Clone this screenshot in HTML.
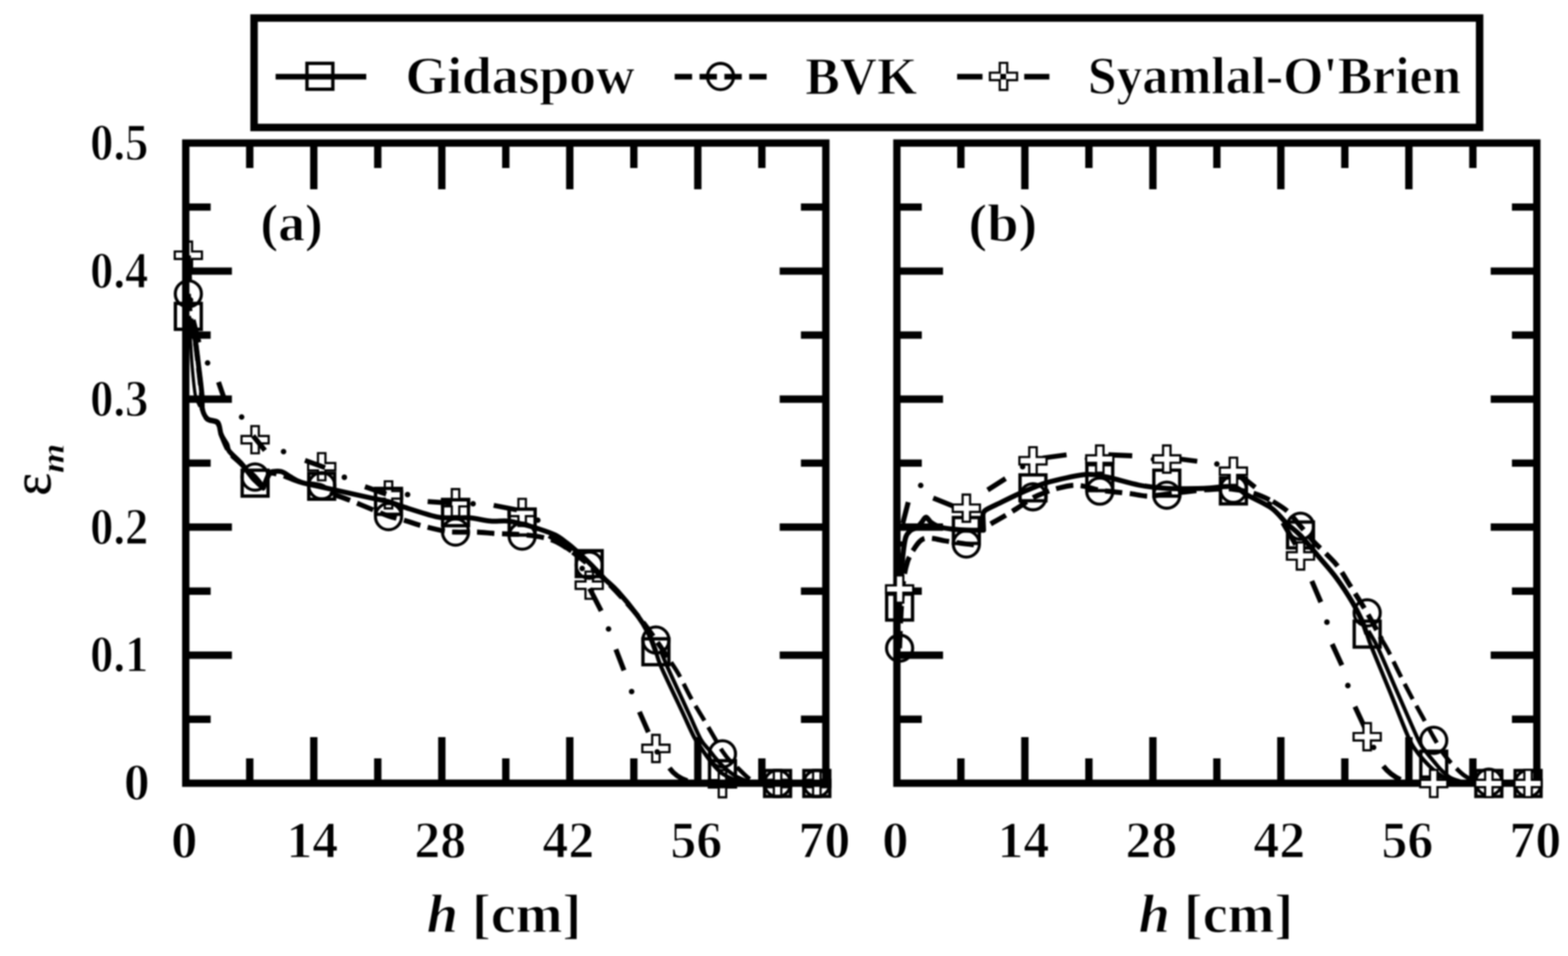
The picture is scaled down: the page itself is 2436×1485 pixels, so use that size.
<!DOCTYPE html>
<html lang="en"><head><meta charset="utf-8"><title>Solids holdup profiles</title>
<style>
html,body{margin:0;padding:0;background:#fff;}
body{width:2436px;height:1485px;overflow:hidden;}
svg{display:block;filter:blur(1px);}
text{font-family:"Liberation Serif","DejaVu Serif",serif;font-weight:bold;fill:#000;stroke:#fff;stroke-width:1.3;stroke-linejoin:round;}
.dg text{stroke-width:1.5;}
text.eps{font-weight:normal;stroke:#000;stroke-width:0.8;}
text.sub{stroke-width:0.8;}
.ax{stroke:#000;stroke-width:11.4;fill:none;}
.tk{stroke:#000;stroke-width:11.4;fill:none;stroke-linecap:butt;}
.ln{stroke:#000;stroke-width:7.8;fill:none;stroke-linecap:butt;stroke-linejoin:round;}
.lg{stroke-width:8.7;}
.dot{fill:#000;stroke:none;}
.sq{stroke:#000;stroke-width:5.2;fill:none;}
.ci{stroke:#000;stroke-width:4.8;fill:none;}
.pl{stroke:#000;stroke-width:3.4;fill:none;stroke-linejoin:miter;}
.plf{stroke:#000;stroke-width:3.4;fill:#fff;stroke-linejoin:miter;}
</style></head><body>
<svg width="2436" height="1485" viewBox="0 0 2436 1485" role="img" aria-label="Axial solids holdup profiles for three drag models">
<rect x="0" y="0" width="2436" height="1485" fill="#fff"/>
<g id="legend">
<rect x="394.7" y="28" width="1904" height="170" fill="#fff" stroke="#000" stroke-width="11.6"/>
<path class="ln lg" d="M428.2 119.2H569"/>
<rect class="sq" x="476.9" y="98.4" width="40.2" height="40.2"/>
<path class="ln lg" d="M1048.2 119.2H1191" stroke-dasharray="27 11.6"/>
<circle class="ci" cx="1119.4" cy="118.8" r="20.3"/>
<path class="ln lg" d="M1487 119.2H1630.3" stroke-dasharray="39.4 27.6 9 28.2"/>
<path class="pl" d="M1553.2 97.6L1564.8 97.6L1564.8 112.9L1580.1 112.9L1580.1 124.5L1564.8 124.5L1564.8 139.8L1553.2 139.8L1553.2 124.5L1537.9 124.5L1537.9 112.9L1553.2 112.9Z"/>
<text x="630" y="145" font-size="82" textLength="356" lengthAdjust="spacingAndGlyphs">Gidaspow</text>
<text x="1251" y="146" font-size="82" textLength="174" lengthAdjust="spacingAndGlyphs">BVK</text>
<text x="1690" y="145" font-size="82" textLength="580" lengthAdjust="spacingAndGlyphs">Syamlal-O'Brien</text>
</g>
<g id="plot-a">
<clipPath id="clip-a"><rect x="258.6" y="192.2" width="1054.4" height="1054.4"/></clipPath>
<path class="ln" d="M292.6 397L294.5 435M300 497L309 532M339.5 593.5L350 624M393.2 677L411.6 699.6M473.8 715.1L505 726.4M567 756L600 767.5M664.4 779.1L702.4 781.6M767 785L803 792M853 832L888 856M916 914L934 949M956.8 1008.6L969.4 1041.4M993.4 1105.8L1007.3 1137.4M1040 1193Q1050 1207 1068 1213"/>
<circle class="dot" cx="296" cy="466" r="4.3"/>
<circle class="dot" cx="322.5" cy="563.8" r="4.3"/>
<circle class="dot" cx="375.4" cy="647.8" r="4.3"/>
<circle class="dot" cx="440.5" cy="701.5" r="4.3"/>
<circle class="dot" cx="535" cy="741.4" r="4.3"/>
<circle class="dot" cx="633.2" cy="768.2" r="4.3"/>
<circle class="dot" cx="735" cy="782.5" r="4.3"/>
<circle class="dot" cx="835.5" cy="808" r="4.3"/>
<circle class="dot" cx="904.5" cy="883" r="4.3"/>
<circle class="dot" cx="945.4" cy="977" r="4.3"/>
<circle class="dot" cx="981.3" cy="1074.2" r="4.3"/>
<circle class="dot" cx="1021" cy="1168" r="4.3"/>
<path class="pl" d="M286.8 375.3L298.4 375.3L298.4 390.6L313.7 390.6L313.7 402.2L298.4 402.2L298.4 417.5L286.8 417.5L286.8 402.2L271.5 402.2L271.5 390.6L286.8 390.6Z"/>
<path class="pl" d="M390.5 661.9L402.1 661.9L402.1 677.2L417.4 677.2L417.4 688.8L402.1 688.8L402.1 704.1L390.5 704.1L390.5 688.8L375.2 688.8L375.2 677.2L390.5 677.2Z"/>
<path class="pl" d="M494 703.9L505.6 703.9L505.6 719.2L520.9 719.2L520.9 730.8L505.6 730.8L505.6 746.1L494 746.1L494 730.8L478.7 730.8L478.7 719.2L494 719.2Z"/>
<path class="pl" d="M597.8 747.6L609.4 747.6L609.4 762.9L624.7 762.9L624.7 774.5L609.4 774.5L609.4 789.8L597.8 789.8L597.8 774.5L582.5 774.5L582.5 762.9L597.8 762.9Z"/>
<path class="pl" d="M701.9 759.7L713.5 759.7L713.5 775L728.8 775L728.8 786.6L713.5 786.6L713.5 801.9L701.9 801.9L701.9 786.6L686.6 786.6L686.6 775L701.9 775Z"/>
<path class="pl" d="M805.4 774.9L817 774.9L817 790.2L832.3 790.2L832.3 801.8L817 801.8L817 817.1L805.4 817.1L805.4 801.8L790.1 801.8L790.1 790.2L805.4 790.2Z"/>
<path class="pl" d="M909.6 887.9L921.2 887.9L921.2 903.2L936.5 903.2L936.5 914.8L921.2 914.8L921.2 930.1L909.6 930.1L909.6 914.8L894.3 914.8L894.3 903.2L909.6 903.2Z"/>
<path class="pl" d="M1013.2 1141.5L1024.8 1141.5L1024.8 1156.8L1040.1 1156.8L1040.1 1168.4L1024.8 1168.4L1024.8 1183.7L1013.2 1183.7L1013.2 1168.4L997.9 1168.4L997.9 1156.8L1013.2 1156.8Z"/>
<path class="pl" d="M1116.6 1196.3L1128.2 1196.3L1128.2 1211.6L1143.5 1211.6L1143.5 1223.2L1128.2 1223.2L1128.2 1238.5L1116.6 1238.5L1116.6 1223.2L1101.3 1223.2L1101.3 1211.6L1116.6 1211.6Z"/>
<path class="pl" d="M1202.2 1195.9L1213.8 1195.9L1213.8 1211.2L1229.1 1211.2L1229.1 1222.8L1213.8 1222.8L1213.8 1238.1L1202.2 1238.1L1202.2 1222.8L1186.9 1222.8L1186.9 1211.2L1202.2 1211.2Z"/>
<path class="pl" d="M1263.2 1195.9L1274.8 1195.9L1274.8 1211.2L1290.1 1211.2L1290.1 1222.8L1274.8 1222.8L1274.8 1238.1L1263.2 1238.1L1263.2 1222.8L1247.9 1222.8L1247.9 1211.2L1263.2 1211.2Z"/>
<path class="ln" d="M292.6 456.5C293.3 463.8 295.3 488.1 297 500C298.7 511.9 301.1 516 303 528C304.9 540 306.8 558 308.5 572C310.2 586 312 601.3 313 612C314 622.7 313 629.5 314.5 636C316 642.5 318.1 647.5 322 651C325.9 654.5 334.3 652.8 338 657C341.7 661.2 341 668.5 344 676C347 683.5 351 694.7 356 702C361 709.3 367.3 713.5 374 720C380.7 726.5 390.5 734.8 396.3 741C402.1 747.2 406.9 754.3 409 757C410.2 754.3 414 744.7 416 741C418 737.3 417 735.3 421 735C425 734.7 432.3 736.7 440 739C447.7 741.3 457 746.3 467 749C477 751.7 491.2 752 499.8 755C508.4 758 515.4 765 518.5 767" stroke-dasharray="27 11.7" stroke-dashoffset="0"/>
<path class="ln" d="M518.5 768C522.8 769.6 534.1 773.4 544.5 777.5C554.9 781.6 571.1 788.5 581 792.5C590.9 796.5 595.3 798.8 603.6 801.5C611.9 804.2 622.5 806.6 630.7 809C638.9 811.4 643.1 813.4 652.6 816C662.1 818.6 678.8 822.8 688 824.5C697.2 826.2 698.9 826.2 707.7 826.5C716.5 826.8 731.3 826.2 741 826.5C750.7 826.8 757.8 828 766 828.5C774.2 829 782.5 829.2 790 829.5C797.5 829.8 802.4 829.6 811.2 830.5C820 831.4 833.8 832.8 842.8 834.7C851.8 836.6 857.1 838.1 865 842C872.9 845.9 881.6 852 890 858C898.4 864 906.2 870 915.4 878C924.6 886 935.1 896 945 906C954.9 916 965.8 927.7 975 938C984.2 948.3 992.7 958.6 1000 968C1007.3 977.4 1011.9 984.1 1019 994.2C1026.1 1004.3 1038.7 1023 1042.6 1028.8" stroke-dasharray="27 11.7" stroke-dashoffset="0"/>
<path class="ln" d="M1042.6 1028.8C1044.7 1032.2 1050 1039.5 1055.3 1049C1060.6 1058.5 1067.9 1074.2 1074.2 1085.6C1080.5 1097 1087.1 1107.1 1093.1 1117.2C1099.1 1127.3 1105.1 1137.7 1110 1146C1114.9 1154.3 1118.2 1160.8 1122.4 1167C1126.6 1173.2 1131 1178.7 1135 1183C1139 1187.3 1141.4 1188.6 1146.2 1193C1151 1197.4 1158.2 1205.5 1163.8 1209.3C1169.4 1213 1172.6 1214.2 1180 1215.5C1187.4 1216.8 1193.2 1216.8 1208 1217C1222.8 1217.2 1258.8 1217 1269 1217" stroke-dasharray="27 11.7" stroke-dashoffset="0" style="stroke-width:6.6"/>
<circle class="ci" cx="292.6" cy="456.5" r="20.3"/>
<circle class="ci" cx="396.3" cy="741" r="20.3"/>
<circle class="ci" cx="499.8" cy="754.5" r="20.3"/>
<circle class="ci" cx="603.6" cy="802.5" r="20.3"/>
<circle class="ci" cx="707.7" cy="826.5" r="20.3"/>
<circle class="ci" cx="811.2" cy="832.8" r="20.3"/>
<circle class="ci" cx="915.4" cy="878" r="20.3"/>
<circle class="ci" cx="1019" cy="994.2" r="20.3"/>
<circle class="ci" cx="1122.4" cy="1171" r="20.3"/>
<circle class="ci" cx="1208" cy="1217" r="20.3"/>
<circle class="ci" cx="1269" cy="1217" r="20.3"/>
<path class="ln" d="M294 498C294.3 503 295 515.7 295.8 528C296.6 540.3 297.5 557.7 298.8 572C300.1 586.3 301.5 604 303.5 614C305.5 624 309.8 629 311 632" style="stroke-width:5"/>
<path class="ln" d="M1026 1010C1027.8 1014.2 1030.5 1021.8 1036.6 1035.5C1042.7 1049.2 1056.7 1079.2 1062.6 1092C1068.5 1104.8 1067.6 1102.8 1072 1112.3C1076.4 1121.8 1084 1140.2 1089 1149C1094 1157.8 1098.1 1160.3 1101.9 1165.1C1105.7 1169.9 1108.3 1173.7 1112 1178C1115.7 1182.3 1119 1186.5 1124 1191C1129 1195.5 1135.7 1201.2 1142 1205C1148.3 1208.8 1158.7 1212.5 1162 1214" style="stroke-width:6"/>
<path class="ln" d="M292.6 491.4C293.3 493.7 295.2 498.9 297 505C298.8 511.1 301.3 516.8 303.3 528C305.3 539.2 307.2 557.7 309 572C310.8 586.3 312.9 603.3 313.8 614C314.7 624.7 313.1 629.9 314.5 636C315.9 642.1 318.5 647.4 322.5 650.7C326.5 654 334.8 652 338.3 656C341.8 660 341.3 669.3 343.6 675C345.9 680.7 350.2 685.7 352.3 690C354.4 694.3 352.6 696.2 356.2 701C359.8 705.8 367.9 712 373.8 718.7C379.7 725.4 386.8 735.9 391.5 741.4C396.2 746.9 399.1 749.2 402 752C404.9 754.8 407.8 757 409 758C410.2 755 414.2 744.1 416 740C417.8 735.9 416.5 734.8 420 733.5C423.5 732.2 432 731.4 437 732.5C442 733.6 444.9 737.2 450 740C455.1 742.8 459 746.2 467.3 749C475.6 751.8 483.2 752.8 500 756.6C516.8 760.4 551 767.9 568.3 771.7C585.6 775.5 593.8 776.7 603.6 779.3C613.4 781.9 614.9 783.6 627.3 787.5C639.7 791.4 665.2 799.9 677.8 802.7C690.4 805.5 694.3 804.1 703 804.4C711.7 804.7 720.2 803.6 730 804.4C739.8 805.2 752.2 808.6 762 809.4C771.8 810.2 780.6 808.5 789 809.4C797.4 810.2 804.7 812.5 812.5 814.5C820.3 816.5 827.6 818.4 836 821.2C844.4 824 855.7 827.7 863 831.3C870.3 834.9 875.1 839.4 880 843C884.9 846.6 886.4 847.8 892.5 853.2C898.6 858.6 908.7 867.7 916.4 875.3C924.1 882.9 931.5 891.4 938.8 898.7C946.1 906 951.5 909.5 960 918.9C968.5 928.3 981.7 944.3 989.6 955C997.5 965.7 1002.4 973.7 1007.3 983.3C1012.2 992.9 1017 1007.5 1019 1012.4"/>
<path class="ln" d="M1017 1008C1017.3 1008.7 1017.3 1007.8 1019 1012.4C1020.7 1017 1021.2 1022.2 1027 1035.5C1032.8 1048.8 1047.5 1079.2 1053.5 1092C1059.5 1104.8 1058.9 1103.5 1063 1112.3C1067.1 1121.1 1073.7 1136.2 1078.2 1144.7C1082.7 1153.2 1086.4 1157.6 1090 1163C1093.6 1168.4 1096.4 1172.5 1099.7 1177C1103 1181.5 1106.2 1185.9 1110 1190C1113.8 1194.1 1117.4 1198.3 1122.4 1201.8C1127.4 1205.3 1133.7 1208.6 1140 1211C1146.3 1213.4 1148.7 1215 1160 1216C1171.3 1217 1189.8 1216.8 1208 1217C1226.2 1217.2 1258.8 1217 1269 1217" style="stroke-width:6.2"/>
<rect class="sq" x="272.5" y="471.3" width="40.2" height="40.2"/>
<rect class="sq" x="376.2" y="730.4" width="40.2" height="40.2"/>
<rect class="sq" x="479.7" y="735.2" width="40.2" height="40.2"/>
<rect class="sq" x="583.5" y="758.7" width="40.2" height="40.2"/>
<rect class="sq" x="687.6" y="776.4" width="40.2" height="40.2"/>
<rect class="sq" x="791.1" y="790.9" width="40.2" height="40.2"/>
<rect class="sq" x="895.3" y="855.4" width="40.2" height="40.2"/>
<rect class="sq" x="998.9" y="992.3" width="40.2" height="40.2"/>
<rect class="sq" x="1102.3" y="1181.7" width="40.2" height="40.2"/>
<rect class="sq" x="1187.9" y="1196.9" width="40.2" height="40.2"/>
<rect class="sq" x="1248.9" y="1196.9" width="40.2" height="40.2"/>
<rect class="ax" x="288.6" y="222.2" width="994.4" height="994.4"/>
<path class="tk" d="M388 222.2v38.7M388 1216.6v-38.7M288.6 1117.2h38.7M1283 1117.2h-38.7M487.5 222.2v71.7M487.5 1216.6v-71.7M288.6 1017.7h71.7M1283 1017.7h-71.7M586.9 222.2v38.7M586.9 1216.6v-38.7M288.6 918.3h38.7M1283 918.3h-38.7M686.4 222.2v71.7M686.4 1216.6v-71.7M288.6 818.8h71.7M1283 818.8h-71.7M785.8 222.2v38.7M785.8 1216.6v-38.7M288.6 719.4h38.7M1283 719.4h-38.7M885.2 222.2v71.7M885.2 1216.6v-71.7M288.6 620h71.7M1283 620h-71.7M984.7 222.2v38.7M984.7 1216.6v-38.7M288.6 520.5h38.7M1283 520.5h-38.7M1084.1 222.2v71.7M1084.1 1216.6v-71.7M288.6 421.1h71.7M1283 421.1h-71.7M1183.6 222.2v38.7M1183.6 1216.6v-38.7M288.6 321.6h38.7M1283 321.6h-38.7"/>
</g>
<g id="plot-b">
<clipPath id="clip-b"><rect x="1363.4" y="192.2" width="1054.2" height="1054.4"/></clipPath>
<rect class="ax" x="1393.4" y="222.2" width="994.2" height="994.4"/>
<path class="tk" d="M1492.8 222.2v38.7M1492.8 1216.6v-38.7M1393.4 1117.2h38.7M2387.6 1117.2h-38.7M1592.2 222.2v71.7M1592.2 1216.6v-71.7M1393.4 1017.7h71.7M2387.6 1017.7h-71.7M1691.7 222.2v38.7M1691.7 1216.6v-38.7M1393.4 918.3h38.7M2387.6 918.3h-38.7M1791.1 222.2v71.7M1791.1 1216.6v-71.7M1393.4 818.8h71.7M2387.6 818.8h-71.7M1890.5 222.2v38.7M1890.5 1216.6v-38.7M1393.4 719.4h38.7M2387.6 719.4h-38.7M1989.9 222.2v71.7M1989.9 1216.6v-71.7M1393.4 620h71.7M2387.6 620h-71.7M2089.3 222.2v38.7M2089.3 1216.6v-38.7M1393.4 520.5h38.7M2387.6 520.5h-38.7M2188.8 222.2v71.7M2188.8 1216.6v-71.7M1393.4 421.1h71.7M2387.6 421.1h-71.7M2288.2 222.2v38.7M2288.2 1216.6v-38.7M1393.4 321.6h38.7M2387.6 321.6h-38.7"/>
<path class="ln" d="M2126 980C2128.5 984.5 2133.3 990.7 2141 1007C2148.7 1023.3 2161.6 1054.4 2172 1078C2182.4 1101.6 2196.2 1134 2203.2 1148.7C2210.2 1163.4 2209.9 1160.3 2214 1166C2218.1 1171.7 2223.2 1177.7 2227.7 1183C2232.2 1188.3 2236.4 1193.7 2241 1198C2245.6 1202.3 2249.3 1206.1 2255 1209C2260.7 1211.9 2271.7 1214.4 2275 1215.5" style="stroke-width:6"/>
<path class="ln" d="M1397.5 943C1397.9 935.8 1399.1 913.8 1400 900C1400.9 886.2 1401.8 870.8 1403 860C1404.2 849.2 1405.2 840.9 1407 835C1408.8 829.1 1411 827.2 1414 824.5C1417 821.8 1422 821.2 1425 819C1428 816.8 1429.7 813.6 1432 811C1434.3 808.4 1436.3 803.5 1438.6 803.5C1440.9 803.5 1443.1 808.8 1446 811C1448.9 813.2 1452.7 815.5 1456 817C1459.3 818.5 1462 819.2 1466 820C1470 820.8 1474.1 821.4 1480 822C1485.9 822.6 1493.5 823.2 1501.5 823.5C1509.5 823.8 1523.6 823.5 1528 823.5C1527.8 819.6 1527.2 803.9 1527 800C1527.7 798.8 1526.2 795.8 1531 792.5C1535.8 789.2 1547.5 784.2 1556 780C1564.5 775.8 1574 771.1 1582.2 767.4C1590.4 763.7 1596.9 760.9 1604.9 757.7C1612.9 754.6 1616.9 751.9 1630.4 748.5C1643.9 745.1 1671.3 738.4 1686 737.1C1700.7 735.8 1704.9 738.2 1718.8 740.9C1732.7 743.6 1753.7 750.5 1769.3 753.5C1784.9 756.5 1795.4 757.8 1812.2 758.6C1829 759.5 1853 759 1870.3 758.6C1887.6 758.2 1904.7 754.3 1915.8 756C1926.9 757.7 1927.2 763.2 1937 768.7C1946.8 774.2 1964.4 781.4 1974.9 788.9C1985.4 796.4 1992.4 806.9 2000 814C2007.6 821.1 2011.9 823 2020.3 831.8C2028.7 840.6 2041.3 856 2050.6 867C2059.9 878 2067.5 886.1 2075.9 897.5C2084.3 908.9 2094.5 924.6 2101 935.4C2107.5 946.1 2111.2 953.7 2115 962C2118.8 970.3 2122.2 981.2 2123.6 985"/>
<path class="ln" d="M2121.5 980C2121.8 980.8 2121.9 980.5 2123.6 985C2125.3 989.5 2125.4 991.8 2131.5 1007C2137.6 1022.2 2150.6 1053 2160 1076C2169.4 1099 2181.3 1130 2188 1145C2194.7 1160 2195.5 1159.5 2200 1166C2204.5 1172.5 2209.7 1178.3 2215 1184C2220.3 1189.7 2226.2 1195.5 2232 1200C2237.8 1204.5 2243.7 1208.3 2250 1211C2256.3 1213.7 2259.5 1215 2270 1216C2280.5 1217 2295.7 1216.8 2313 1217C2330.3 1217.2 2363.8 1217 2374 1217" style="stroke-width:6.2"/>
<rect class="sq" x="1377.5" y="922.9" width="40.2" height="40.2"/>
<rect class="sq" x="1481.2" y="803.9" width="40.2" height="40.2"/>
<rect class="sq" x="1584.7" y="737.7" width="40.2" height="40.2"/>
<rect class="sq" x="1688.5" y="721.9" width="40.2" height="40.2"/>
<rect class="sq" x="1792.6" y="730.4" width="40.2" height="40.2"/>
<rect class="sq" x="1896.1" y="742.5" width="40.2" height="40.2"/>
<rect class="sq" x="2000.3" y="810.9" width="40.2" height="40.2"/>
<rect class="sq" x="2103.9" y="964.9" width="40.2" height="40.2"/>
<rect class="sq" x="2207.3" y="1166.9" width="40.2" height="40.2"/>
<rect class="sq" x="2292.9" y="1196.9" width="40.2" height="40.2"/>
<rect class="sq" x="2353.9" y="1196.9" width="40.2" height="40.2"/>
<path class="ln" d="M1397.5 1007C1397.9 997.5 1398.9 967.8 1400 950C1401.1 932.2 1402.3 913 1404 900C1405.7 887 1407.7 879.3 1410 872C1412.3 864.7 1416.7 858.7 1418 856" stroke-dasharray="27 11.7" stroke-dashoffset="0"/>
<path class="ln" d="M1418 855.6C1419.5 853.5 1424 846.2 1427 843C1430 839.8 1432.2 837.6 1436 836.5C1439.8 835.4 1444.8 835.9 1450 836.5C1455.2 837.1 1461.3 839 1467 840C1472.7 841 1478.3 841.7 1484 842.5C1489.7 843.3 1495 844.2 1501 845C1507 845.8 1516.8 846.7 1520 847" stroke-dasharray="27 11.7" stroke-dashoffset="0"/>
<path class="ln" d="M1539.1 813.8C1543.2 811.4 1556.4 804.2 1563.9 799.7C1571.5 795.2 1577.6 791.2 1584.4 786.8C1591.2 782.3 1598.2 776.7 1605 773C1611.8 769.3 1618.7 766.9 1625 764.5C1631.3 762.1 1636.2 760.4 1643 758.6C1649.8 756.9 1659 754.5 1666 754C1673 753.5 1677.9 754.2 1685 755.5C1692.1 756.8 1701.1 760.1 1708.6 761.5C1716.1 762.9 1722.4 763.2 1730 764C1737.6 764.8 1745.7 765.4 1754 766.5C1762.3 767.6 1772.8 770 1780 770.5C1787.2 771 1790.3 770.2 1797 769.5C1803.7 768.8 1811.2 767.6 1820 766.5C1828.8 765.4 1839.2 764.1 1850 763C1860.8 761.9 1874 760.5 1885 760C1896 759.5 1905.4 758.8 1916.2 760C1927 761.2 1939.8 763.9 1950 767C1960.2 770.1 1972.8 776.8 1977.4 778.8" stroke-dasharray="27 11.7" stroke-dashoffset="0"/>
<path class="ln" d="M1977.4 778.8C1981.2 781.3 1992.8 787.6 2000 794C2007.2 800.4 2013.7 809.6 2020.4 817.4C2027.2 825.2 2033.6 833.6 2040.5 841C2047.4 848.4 2055.7 855.5 2062 862C2068.3 868.5 2072.3 871.6 2078.4 879.8C2084.5 888 2091 899.4 2098.6 911.4C2106.2 923.4 2116 938.3 2124 952C2132 965.7 2142.8 986.5 2146.6 993.4" stroke-dasharray="27 11.7" stroke-dashoffset="0"/>
<path class="ln" d="M2146.6 993.4C2148.3 996.3 2152.1 1002.1 2156.7 1011C2161.3 1019.9 2168.5 1035.3 2174.4 1047C2180.3 1058.7 2185.9 1069.6 2192 1081C2198.1 1092.4 2205.1 1104.6 2211 1115.4C2216.9 1126.2 2222.5 1136.9 2227.7 1146C2232.9 1155.1 2237 1162.9 2242 1170C2247 1177.1 2252.1 1182.8 2257.7 1188.6C2263.3 1194.4 2269.2 1200.7 2275.4 1205C2281.6 1209.3 2288.7 1212.5 2295 1214.5C2301.3 1216.5 2299.8 1216.6 2313 1217C2326.2 1217.4 2363.8 1217 2374 1217" stroke-dasharray="27 11.7" stroke-dashoffset="0" style="stroke-width:6.6"/>
<circle class="ci" cx="1397.6" cy="1006.8" r="20.3"/>
<circle class="ci" cx="1501.3" cy="845" r="20.3"/>
<circle class="ci" cx="1604.8" cy="771.7" r="20.3"/>
<circle class="ci" cx="1708.6" cy="762.9" r="20.3"/>
<circle class="ci" cx="1812.7" cy="769.2" r="20.3"/>
<circle class="ci" cx="1916.2" cy="760" r="20.3"/>
<circle class="ci" cx="2020.4" cy="817.4" r="20.3"/>
<circle class="ci" cx="2124" cy="952" r="20.3"/>
<circle class="ci" cx="2227.4" cy="1150" r="20.3"/>
<circle class="ci" cx="2313" cy="1215" r="20.3"/>
<circle class="ci" cx="2374" cy="1217" r="20.3"/>
<path class="ln" d="M1397.6 915L1398.5 877M1402.5 813L1411 780M1449.8 773.7L1481.4 786.4M1534.4 761.1L1562.2 743.4M1620 711.5L1657 706.5M1722 706.5L1759 708M1825 712L1860 716.5M1920 733L1950 757M1993 812L2013 846M2038 902.5L2052 935.4M2069.6 1000.5L2084.7 1033.3M2105 1097.7L2122 1134M2149 1190Q2160 1204 2176 1211"/>
<circle class="dot" cx="1400" cy="845" r="4.3"/>
<circle class="dot" cx="1430.4" cy="754" r="4.3"/>
<circle class="dot" cx="1510" cy="787" r="4.3"/>
<circle class="dot" cx="1588.7" cy="725" r="4.3"/>
<circle class="dot" cx="1689.5" cy="712.5" r="4.3"/>
<circle class="dot" cx="1792" cy="713.5" r="4.3"/>
<circle class="dot" cx="1890.5" cy="720.7" r="4.3"/>
<circle class="dot" cx="1972" cy="783" r="4.3"/>
<circle class="dot" cx="2061.5" cy="966.4" r="4.3"/>
<circle class="dot" cx="2094" cy="1064.9" r="4.3"/>
<circle class="dot" cx="2134" cy="1161" r="4.3"/>
<path class="plf" d="M1391.8 893.9L1403.4 893.9L1403.4 909.2L1418.7 909.2L1418.7 920.8L1403.4 920.8L1403.4 936.1L1391.8 936.1L1391.8 920.8L1376.5 920.8L1376.5 909.2L1391.8 909.2Z"/>
<path class="plf" d="M1495.5 768.3L1507.1 768.3L1507.1 783.6L1522.4 783.6L1522.4 795.2L1507.1 795.2L1507.1 810.5L1495.5 810.5L1495.5 795.2L1480.2 795.2L1480.2 783.6L1495.5 783.6Z"/>
<path class="plf" d="M1599 694.6L1610.6 694.6L1610.6 709.9L1625.9 709.9L1625.9 721.5L1610.6 721.5L1610.6 736.8L1599 736.8L1599 721.5L1583.7 721.5L1583.7 709.9L1599 709.9Z"/>
<path class="plf" d="M1702.8 692L1714.4 692L1714.4 707.3L1729.7 707.3L1729.7 718.9L1714.4 718.9L1714.4 734.2L1702.8 734.2L1702.8 718.9L1687.5 718.9L1687.5 707.3L1702.8 707.3Z"/>
<path class="plf" d="M1806.9 692L1818.5 692L1818.5 707.3L1833.8 707.3L1833.8 718.9L1818.5 718.9L1818.5 734.2L1806.9 734.2L1806.9 718.9L1791.6 718.9L1791.6 707.3L1806.9 707.3Z"/>
<path class="plf" d="M1910.4 710.9L1922 710.9L1922 726.2L1937.3 726.2L1937.3 737.8L1922 737.8L1922 753.1L1910.4 753.1L1910.4 737.8L1895.1 737.8L1895.1 726.2L1910.4 726.2Z"/>
<path class="plf" d="M2014.6 842.5L2026.2 842.5L2026.2 857.8L2041.5 857.8L2041.5 869.4L2026.2 869.4L2026.2 884.7L2014.6 884.7L2014.6 869.4L1999.3 869.4L1999.3 857.8L2014.6 857.8Z"/>
<path class="plf" d="M2118.2 1123.3L2129.8 1123.3L2129.8 1138.6L2145.1 1138.6L2145.1 1150.2L2129.8 1150.2L2129.8 1165.5L2118.2 1165.5L2118.2 1150.2L2102.9 1150.2L2102.9 1138.6L2118.2 1138.6Z"/>
<path class="plf" d="M2221.6 1195.9L2233.2 1195.9L2233.2 1211.2L2248.5 1211.2L2248.5 1222.8L2233.2 1222.8L2233.2 1238.1L2221.6 1238.1L2221.6 1222.8L2206.3 1222.8L2206.3 1211.2L2221.6 1211.2Z"/>
<path class="plf" d="M2307.2 1195.9L2318.8 1195.9L2318.8 1211.2L2334.1 1211.2L2334.1 1222.8L2318.8 1222.8L2318.8 1238.1L2307.2 1238.1L2307.2 1222.8L2291.9 1222.8L2291.9 1211.2L2307.2 1211.2Z"/>
<path class="plf" d="M2368.2 1195.9L2379.8 1195.9L2379.8 1211.2L2395.1 1211.2L2395.1 1222.8L2379.8 1222.8L2379.8 1238.1L2368.2 1238.1L2368.2 1222.8L2352.9 1222.8L2352.9 1211.2L2368.2 1211.2Z"/>
</g>
<g id="ticklabels" font-size="80" class="dg">
<text x="232.5" y="1242.3" text-anchor="end" textLength="40" lengthAdjust="spacingAndGlyphs">0</text>
<text x="230.5" y="1043.4" text-anchor="end" textLength="90.5" lengthAdjust="spacingAndGlyphs">0.1</text>
<text x="230.5" y="844.5" text-anchor="end" textLength="90.5" lengthAdjust="spacingAndGlyphs">0.2</text>
<text x="230.5" y="645.7" text-anchor="end" textLength="90.5" lengthAdjust="spacingAndGlyphs">0.3</text>
<text x="230.5" y="446.8" text-anchor="end" textLength="90.5" lengthAdjust="spacingAndGlyphs">0.4</text>
<text x="230.5" y="247.9" text-anchor="end" textLength="90.5" lengthAdjust="spacingAndGlyphs">0.5</text>
<text x="286.3" y="1332.4" text-anchor="middle" textLength="41" lengthAdjust="spacingAndGlyphs">0</text>
<text x="485.2" y="1332.4" text-anchor="middle" textLength="80.5" lengthAdjust="spacingAndGlyphs">14</text>
<text x="684.1" y="1332.4" text-anchor="middle" textLength="80.5" lengthAdjust="spacingAndGlyphs">28</text>
<text x="882.9" y="1332.4" text-anchor="middle" textLength="80.5" lengthAdjust="spacingAndGlyphs">42</text>
<text x="1081.8" y="1332.4" text-anchor="middle" textLength="80.5" lengthAdjust="spacingAndGlyphs">56</text>
<text x="1280.7" y="1332.4" text-anchor="middle" textLength="80.5" lengthAdjust="spacingAndGlyphs">70</text>
<text x="1391.1" y="1332.4" text-anchor="middle" textLength="41" lengthAdjust="spacingAndGlyphs">0</text>
<text x="1589.9" y="1332.4" text-anchor="middle" textLength="80.5" lengthAdjust="spacingAndGlyphs">14</text>
<text x="1788.8" y="1332.4" text-anchor="middle" textLength="80.5" lengthAdjust="spacingAndGlyphs">28</text>
<text x="1987.6" y="1332.4" text-anchor="middle" textLength="80.5" lengthAdjust="spacingAndGlyphs">42</text>
<text x="2186.5" y="1332.4" text-anchor="middle" textLength="80.5" lengthAdjust="spacingAndGlyphs">56</text>
<text x="2385.3" y="1332.4" text-anchor="middle" textLength="80.5" lengthAdjust="spacingAndGlyphs">70</text>
</g>
<g id="titles" font-size="84">
<text x="783" y="1447.5" text-anchor="middle" textLength="240" lengthAdjust="spacingAndGlyphs"><tspan font-style="italic">h</tspan> [cm]</text>
<text x="1889" y="1447.5" text-anchor="middle" textLength="240" lengthAdjust="spacingAndGlyphs"><tspan font-style="italic">h</tspan> [cm]</text>
<text class="eps" transform="translate(77.8 770) rotate(-90)" font-size="84">ε</text>
<text class="sub" transform="translate(99.3 735) rotate(-90)" font-size="50" font-style="italic" textLength="46" lengthAdjust="spacingAndGlyphs">m</text>
<text x="404.5" y="374" font-size="82" textLength="97" lengthAdjust="spacingAndGlyphs">(a)</text>
<text x="1504.5" y="374" font-size="82" textLength="107" lengthAdjust="spacingAndGlyphs">(b)</text>
</g>
</svg></body></html>
